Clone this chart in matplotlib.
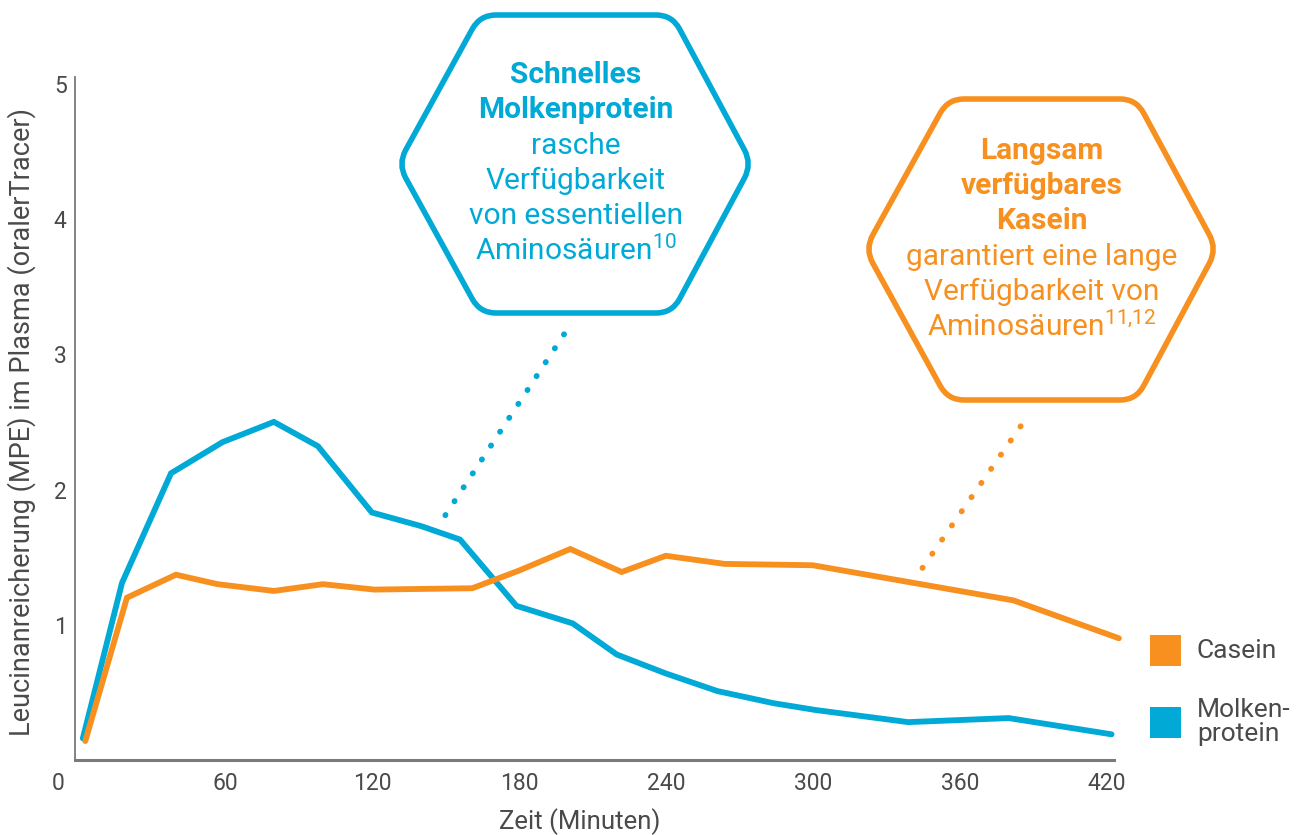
import matplotlib

matplotlib.use("Agg")
import matplotlib.pyplot as plt
import matplotlib.transforms as mtransforms
import numpy as np
from matplotlib.patches import PathPatch, Rectangle
from matplotlib.path import Path

plt.rcParams["font.family"] = ["Roboto", "DejaVu Sans"]
plt.rcParams["mathtext.fontset"] = "custom"
plt.rcParams["mathtext.rm"] = "Roboto"
plt.rcParams["mathtext.default"] = "regular"

# ---- data ----------------------------------------------------------------
whey_t = [2, 18, 38, 59, 80, 98, 120, 140, 156, 179, 202, 220, 240, 261, 284, 301, 339, 380, 422]
whey_v = [0.16, 1.31, 2.12, 2.35, 2.50, 2.32, 1.83, 1.73, 1.63, 1.14, 1.01, 0.78, 0.64, 0.51,
          0.42, 0.37, 0.28, 0.31, 0.19]
casein_t = [3, 20, 40, 57, 80, 100, 121, 161, 180, 201, 222, 240, 264, 300, 382, 425]
casein_v = [0.14, 1.20, 1.37, 1.30, 1.25, 1.30, 1.26, 1.27, 1.40, 1.56, 1.39, 1.51, 1.45,
            1.44, 1.18, 0.90]

x_ticks = [0, 60, 120, 180, 240, 300, 360, 420]
y_ticks = [1, 2, 3, 4, 5]

BLUE = "#00a9d6"
ORANGE = "#f7901e"
GREY = "#4a4a4a"
AXIS = "#7a7a7a"

W, H = 1305, 835


def px(x, y):
    """reference pixel (top-left origin) -> figure fraction"""
    return x / W, 1 - y / H


def rounded_hexagon(pts, r):
    pts = [np.array(p, float) for p in pts]
    n = len(pts)
    verts, codes = [], []
    for i in range(n):
        p0, p1, p2 = pts[i - 1], pts[i], pts[(i + 1) % n]
        d1 = (p0 - p1) / np.linalg.norm(p0 - p1)
        d2 = (p2 - p1) / np.linalg.norm(p2 - p1)
        a, b = p1 + d1 * r, p1 + d2 * r
        verts += [a, p1, b]
        codes += [Path.MOVETO if i == 0 else Path.LINETO, Path.CURVE3, Path.CURVE3]
    verts.append(verts[0])
    codes.append(Path.CLOSEPOLY)
    return Path([px(*v) for v in verts], codes)


fig = plt.figure(figsize=(W / 100, H / 100), dpi=100)
ax = fig.add_axes([75 / W, 75 / H, (1114 - 75) / W, (760 - 77) / H])

ax.plot(whey_t, whey_v, color=BLUE, lw=4.2, solid_capstyle="round", solid_joinstyle="miter",
        clip_on=False, zorder=3)
ax.plot(casein_t, casein_v, color=ORANGE, lw=4.2, solid_capstyle="round", solid_joinstyle="miter",
        clip_on=False, zorder=3)

ax.set_xlim(-1.2, 423)
ax.set_ylim(0, 5.05)
ax.set_xticks(x_ticks)
ax.set_yticks(y_ticks)
ax.tick_params(length=0, labelsize=16.5, labelcolor=GREY)
ax.tick_params(axis="x", pad=9)
ax.tick_params(axis="y", pad=6)
for s in ("top", "right"):
    ax.spines[s].set_visible(False)
ax.spines["left"].set_color(AXIS)
ax.spines["left"].set_linewidth(1.3)
ax.spines["bottom"].set_color(AXIS)
ax.spines["bottom"].set_linewidth(2.2)

# the "0" label sits a bit left of the axis origin
lbl0 = ax.get_xticklabels()[0]
lbl0.set_transform(lbl0.get_transform() + mtransforms.ScaledTranslation(-0.2, 0, fig.dpi_scale_trans))

fig.text(*px(580, 822), "Zeit (Minuten)", ha="center", va="center", fontsize=18.5, color=GREY)
fig.text(*px(22, 422), "Leucinanreicherung (MPE) im Plasma (oralerTracer)", rotation=90,
         ha="center", va="center", fontsize=19.5, color=GREY)

# dotted leaders (data coords)
ax.plot([150, 200], [1.81, 3.19], color=BLUE, lw=4.2, ls=(0, (0.05, 2.8)), dash_capstyle="round",
        clip_on=False)
ax.plot([344.8, 386.5], [1.42, 2.51], color=ORANGE, lw=4.2, ls=(0, (0.05, 2.9)), dash_capstyle="round",
        clip_on=False)

# hexagon call-outs
hex_blue = [(480, 15), (672, 15), (752, 164), (672, 313), (480, 313), (398, 164)]
hex_orange = [(948, 99), (1136, 99), (1217, 249), (1136, 400), (948, 400), (865, 249)]
for pts, col in ((hex_blue, BLUE), (hex_orange, ORANGE)):
    fig.add_artist(PathPatch(rounded_hexagon(pts, 16), transform=fig.transFigure,
                             facecolor="white", edgecolor=col, lw=4, zorder=5))

blue_lines = [("Schnelles", "bold", 75), ("Molkenprotein", "bold", 110),
              ("rasche", "normal", 146), ("Verfügbarkeit", "normal", 181),
              ("von essentiellen", "normal", 216), (r"Aminosäuren$^{10}$", "normal", 250)]
for txt, wt, y in blue_lines:
    fig.text(*px(576, y), txt, ha="center", va="center", fontsize=21.5, color=BLUE,
             fontweight=wt, zorder=6)

orange_lines = [("Langsam", "bold", 151), ("verfügbares", "bold", 186),
                ("Kasein", "bold", 221), ("garantiert eine lange", "normal", 257),
                ("Verfügbarkeit von", "normal", 292), (r"Aminosäuren$^{11{,}12}$", "normal", 326)]
for txt, wt, y in orange_lines:
    fig.text(*px(1042, y), txt, ha="center", va="center", fontsize=21.5, color=ORANGE,
             fontweight=wt, zorder=6)

# legend
for col, y0 in ((ORANGE, 666), (BLUE, 738)):
    x0, y0f = px(1150, y0)
    fig.add_artist(Rectangle((x0, y0f), 31 / W, 31 / H, transform=fig.transFigure,
                             facecolor=col, edgecolor="none"))
fig.text(*px(1197, 651), "Casein", ha="left", va="center", fontsize=19, color=GREY)
fig.text(*px(1197, 722), "Molken-\nprotein", ha="left", va="center", fontsize=19, color=GREY,
         linespacing=0.95)

fig.savefig("out.png", dpi=100)
